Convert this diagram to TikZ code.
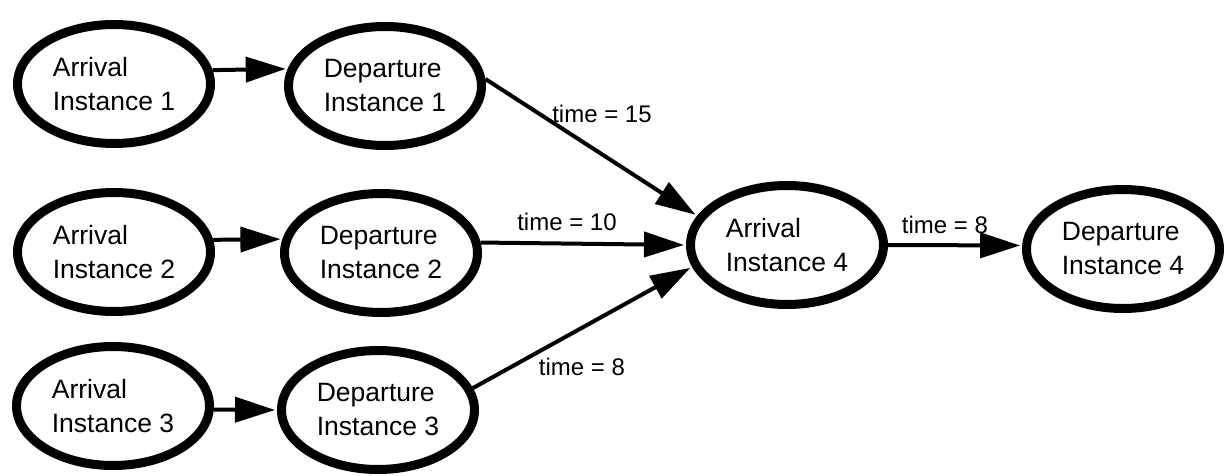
\documentclass[tikz,border=0pt]{standalone}
\usepackage{fontspec}
\setmainfont{Liberation Sans}
\usetikzlibrary{shapes.geometric,arrows.meta}
\begin{document}
\begin{tikzpicture}[x=1pt,y=-1pt,
  state/.style={ellipse, draw, fill=white, line width=9pt,
    minimum width=193pt, minimum height=119pt, inner sep=0pt,
    align=left, font=\fontsize{26.5}{34}\selectfont},
  flow/.style={-{Triangle[length=40pt,width=25pt]}, line width=4pt,
    shorten >=2pt},
  lbl/.style={font=\fontsize{24}{28}\selectfont, inner sep=0pt}]
\useasboundingbox (0,0) rectangle (1229,476);

% instances
\node[state] (A1) at (114,84)  {Arrival\\Instance 1};
\node[state] (D1) at (385,86)  {Departure\\Instance 1};
\node[state] (A2) at (114,252) {Arrival\\Instance 2};
\node[state] (D2) at (381,253) {Departure\\Instance 2};
\node[state] (A3) at (113,406) {Arrival\\Instance 3};
\node[state] (D3) at (378,410) {Departure\\Instance 3};
\node[state] (A4) at (787,245) {Arrival\\Instance 4};
\node[state] (D4) at (1123,249) {Departure\\Instance 4};

% arrival -> departure
\draw[flow] (A1.8) -- (D1.170);
\draw[flow] (A2.7) -- (D2.172);
\draw[flow] (A3.358) -- (D3.west);

% departures feeding arrival 4
\draw[flow] (D1.4) -- (A4.162);
\draw[flow] (D2.6) -- (A4.west);
\draw[flow] (D3.13) -- (A4.193);
\draw[flow] (A4.east) -- (D4.178);

% timings
\node[lbl] (t15) at (602,114) {time = 15};
\node[lbl] (t10) at (567,222) {time = 10};
\node[lbl] (t8a) at (582,367) {time = 8};
\node[lbl] (t8b) at (945,225) {time = 8};
\end{tikzpicture}
\end{document}
